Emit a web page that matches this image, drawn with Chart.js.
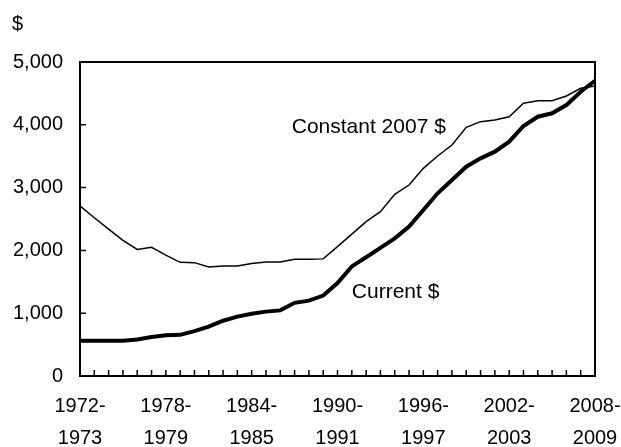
<!DOCTYPE html>
<html lang="en">
<head>
    <meta charset="UTF-8">
    <title>Tuition Chart</title>
    <script src="https://cdn.jsdelivr.net/npm/chart.js"></script>
    <style>
        body { margin: 0; background: #fff; }
        #wrap { width: 621px; height: 447px; }
    </style>
</head>
<body>
    <div id="wrap"><canvas id="myChart" width="621" height="447"></canvas></div>

    <script>
        // academic years, one point per year
        const years = [
            '1972-1973', '1973-1974', '1974-1975', '1975-1976', '1976-1977', '1977-1978',
            '1978-1979', '1979-1980', '1980-1981', '1981-1982', '1982-1983', '1983-1984',
            '1984-1985', '1985-1986', '1986-1987', '1987-1988', '1988-1989', '1989-1990',
            '1990-1991', '1991-1992', '1992-1993', '1993-1994', '1994-1995', '1995-1996',
            '1996-1997', '1997-1998', '1998-1999', '1999-2000', '2000-2001', '2001-2002',
            '2002-2003', '2003-2004', '2004-2005', '2005-2006', '2006-2007', '2007-2008',
            '2008-2009'
        ];

        const currentDollars = [
            560, 560, 560, 560, 580, 620, 650, 655, 715, 785, 880, 945,
            990, 1025, 1045, 1165, 1200, 1280, 1480, 1745, 1890, 2040, 2192, 2378,
            2643, 2909, 3121, 3333, 3466, 3572, 3731, 3981, 4129, 4183, 4315, 4527,
            4702
        ];

        const constantDollars = [
            2710, 2520, 2340, 2160, 2015, 2050, 1925, 1810, 1805, 1735, 1750, 1750,
            1790, 1815, 1815, 1858, 1858, 1865, 2060, 2260, 2457, 2616, 2893, 3041,
            3307, 3503, 3678, 3960, 4050, 4076, 4129, 4342, 4384, 4384, 4459, 4581,
            4618
        ];

        const yTicks = [0, 1000, 2000, 3000, 4000, 5000];

        const fontFamily = '"Liberation Sans", Arial, sans-serif';

        // box, inside tick marks and the text labels
        const decorations = {
            id: 'decorations',
            afterDraw(chart) {
                const ctx = chart.ctx;
                const a = chart.chartArea;
                const xs = chart.scales.x;
                const ys = chart.scales.y;
                ctx.save();
                ctx.strokeStyle = '#000';
                ctx.lineWidth = 2;
                ctx.strokeRect(a.left, a.top, a.right - a.left, a.bottom - a.top);

                ctx.lineWidth = 1.5;
                ctx.beginPath();
                for (let i = 0; i < years.length; i++) {
                    const x = xs.getPixelForValue(i);
                    ctx.moveTo(x, a.bottom);
                    ctx.lineTo(x, a.bottom - 6);
                }
                yTicks.forEach(v => {
                    const y = ys.getPixelForValue(v);
                    ctx.moveTo(a.left, y);
                    ctx.lineTo(a.left + 6, y);
                });
                ctx.stroke();

                ctx.fillStyle = '#000';
                ctx.font = '21px ' + fontFamily;
                ctx.textBaseline = 'alphabetic';
                ctx.textAlign = 'left';
                ctx.fillText('Constant 2007 $', xs.getPixelForValue(14.8), ys.getPixelForValue(3865));
                ctx.fillText('Current $', xs.getPixelForValue(19), ys.getPixelForValue(1242));
                ctx.font = '20px ' + fontFamily;
                ctx.fillText('$', 12, 30);
                ctx.restore();
            }
        };

        const ctx = document.getElementById('myChart').getContext('2d');
        const myChart = new Chart(ctx, {
            type: 'line',
            data: {
                labels: years,
                datasets: [
                    {
                        label: 'Current $',
                        data: currentDollars,
                        borderColor: '#000',
                        borderWidth: 4,
                        pointRadius: 0,
                        tension: 0
                    },
                    {
                        label: 'Constant 2007 $',
                        data: constantDollars,
                        borderColor: '#000',
                        borderWidth: 1.5,
                        pointRadius: 0,
                        tension: 0
                    }
                ]
            },
            options: {
                responsive: false,
                animation: false,
                layout: { padding: { top: 62, right: 26, left: 0, bottom: 0 } },
                plugins: {
                    legend: { display: false },
                    tooltip: { enabled: false }
                },
                scales: {
                    x: {
                        offset: false,
                        grid: { display: false, drawTicks: false },
                        border: { display: false },
                        ticks: {
                            autoSkip: false,
                            maxRotation: 0,
                            padding: 14,
                            color: '#000',
                            font: { family: fontFamily, size: 20, lineHeight: 1.6 },
                            callback: function (val, i) {
                                if (i % 6 !== 0) return '';
                                const parts = years[i].split('-');
                                return [parts[0] + '-', parts[1]];
                            }
                        },
                        afterFit(scale) {
                            scale.height = 71;
                            scale.paddingLeft = 0;
                            scale.paddingRight = 0;
                        }
                    },
                    y: {
                        min: 0,
                        max: 5000,
                        grid: { display: false, drawTicks: false },
                        border: { display: false },
                        ticks: {
                            stepSize: 1000,
                            padding: 17,
                            color: '#000',
                            font: { family: fontFamily, size: 20 },
                            callback: v => v.toLocaleString('en-US')
                        },
                        afterFit(scale) {
                            scale.width = 80;
                        }
                    }
                }
            },
            plugins: [decorations]
        });
    </script>
</body>
</html>
